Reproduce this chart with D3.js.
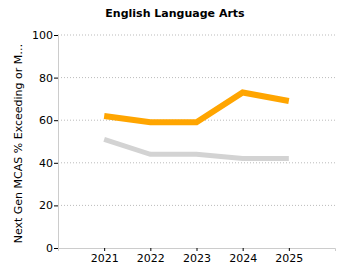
<!DOCTYPE html>
<html lang="en">
  <head>
    <meta charset="UTF-8" />
    <title>English Language Arts</title>
    <script src="https://d3js.org/d3.v7.min.js"></script>
    <style>
      body { margin: 0; background: #fff; }
      text { font-family: "DejaVu Sans", Verdana, sans-serif; }
    </style>
  </head>
  <body>
    <div id="chart"></div>
    <script>
      const years = [2021, 2022, 2023, 2024, 2025];
      const schoolValues = [62, 59, 59, 73, 69];
      const stateValues = [51, 44, 44, 42, 42];
      const yTicks = [0, 20, 40, 60, 80, 100];

      const width = 350;
      const height = 280;
      const margin = { top: 35, right: 15, bottom: 32, left: 58 };

      const svg = d3
        .select("#chart")
        .append("svg")
        .attr("width", width)
        .attr("height", height);

      const x = d3
        .scaleLinear()
        .domain([2020, 2026])
        .range([margin.left, width - margin.right]);

      const y = d3
        .scaleLinear()
        .domain([0, 100])
        .range([height - margin.bottom, margin.top]);

      // title
      svg
        .append("text")
        .attr("x", 175)
        .attr("y", 17)
        .attr("text-anchor", "middle")
        .attr("font-size", 11)
        .attr("font-weight", "bold")
        .text("English Language Arts");

      // grid lines
      svg
        .selectAll(".grid")
        .data(yTicks.slice(1))
        .enter()
        .append("line")
        .attr("x1", margin.left)
        .attr("x2", width - margin.right)
        .attr("y1", (d) => y(d))
        .attr("y2", (d) => y(d))
        .attr("stroke", "#bbb")
        .attr("stroke-dasharray", "1,2");

      // axes
      const yAxis = svg
        .append("g")
        .attr("transform", `translate(${margin.left},0)`)
        .call(d3.axisLeft(y).tickValues(yTicks).tickSize(4).tickSizeOuter(0));

      const xAxis = svg
        .append("g")
        .attr("transform", `translate(0,${height - margin.bottom})`)
        .call(
          d3
            .axisBottom(x)
            .tickValues(years)
            .tickFormat(d3.format("d"))
            .tickSize(3)
            .tickSizeOuter(3)
        );

      [xAxis, yAxis].forEach((g) => {
        g.select(".domain").attr("stroke", "#ccc");
        g.selectAll(".tick line").attr("stroke", "#000");
        g.selectAll("text")
          .attr("font-size", 11)
          .attr("fill", "#000")
          .style("font-family", '"DejaVu Sans", Verdana, sans-serif');
      });
      yAxis.selectAll("text").attr("x", -5);

      // y label
      svg
        .append("text")
        .attr("transform", `translate(22,${(margin.top + height - margin.bottom) / 2 + 2}) rotate(-90)`)
        .attr("text-anchor", "middle")
        .attr("font-size", 11)
        .text("Next Gen MCAS % Exceeding or M…");

      const line = d3
        .line()
        .x((d, i) => x(years[i]))
        .y((d) => y(d));

      svg
        .append("path")
        .datum(stateValues)
        .attr("fill", "none")
        .attr("stroke", "#d3d3d3")
        .attr("stroke-width", 5)
        .attr("d", line);

      svg
        .append("path")
        .datum(schoolValues)
        .attr("fill", "none")
        .attr("stroke", "#ffa500")
        .attr("stroke-width", 6)
        .attr("d", line);
    </script>
  </body>
</html>
